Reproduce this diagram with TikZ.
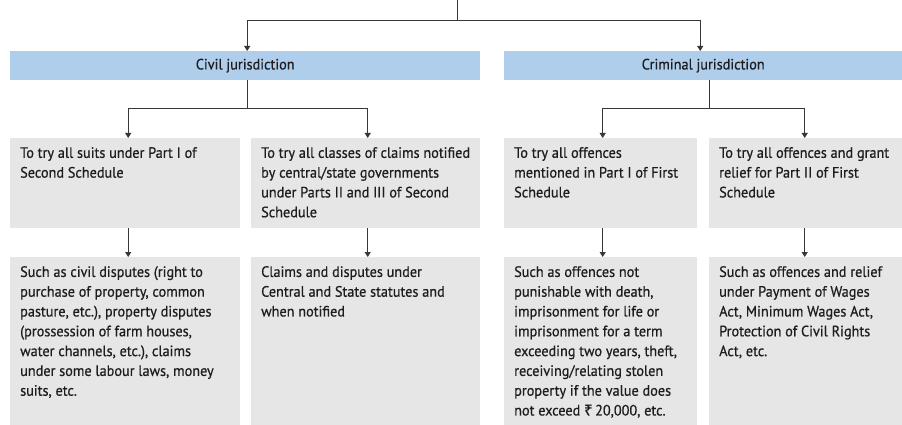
\documentclass[tikz,border=0pt]{standalone}
\usepackage{fontspec}
\setmainfont{PT Sans}[FakeStretch=0.95,FakeBold=0.6]
\newfontfamily\rupeefont{Noto Sans}[FakeBold=0.6]
\usetikzlibrary{arrows.meta}
\definecolor{barblue}{RGB}{174,206,236}
\definecolor{boxgray}{RGB}{230,230,230}
\definecolor{ink}{RGB}{30,28,30}
\definecolor{linegray}{RGB}{55,55,55}
\newcommand{\boxcontent}[3]{\parbox[c][#2][t]{#1}{\fontsize{15pt}{19.8pt}\selectfont\vspace*{9pt}\raggedright #3}}
\begin{document}
\begin{tikzpicture}[x=1pt,y=-1pt,
  bar/.style={fill=barblue, draw=none, minimum height=29pt, inner sep=0pt, anchor=north west, text=ink, font=\fontsize{15pt}{17pt}\selectfont},
  infobox/.style={fill=boxgray, draw=none, inner sep=0pt, anchor=north west, text=ink},
  arr/.style={draw=linegray, line width=0.9pt, -{Triangle[width=6pt,length=5pt]}},
  conn/.style={draw=linegray, line width=0.9pt}]
\useasboundingbox (0,0) rectangle (902,425);
% heading bars
\node[bar, minimum width=470pt] (civil) at (10,51) {Civil jurisdiction};
\node[bar, minimum width=398pt] (crim) at (504,51) {Criminal jurisdiction};
% first row
\node[infobox, minimum width=230pt, minimum height=90pt] (b1) at (10,138)
  {\boxcontent{210pt}{90pt}{To try all suits under Part I of\\ Second Schedule}};
\node[infobox, minimum width=229pt, minimum height=90pt] (b2) at (251,138)
  {\boxcontent{209pt}{90pt}{To try all classes of claims notified\\ by central/state governments\\ under Parts II and III of Second\\ Schedule}};
\node[infobox, minimum width=193pt, minimum height=90pt] (b3) at (504,138)
  {\boxcontent{173pt}{90pt}{To try all offences\\ mentioned in Part I of First\\ Schedule}};
\node[infobox, minimum width=193pt, minimum height=90pt] (b4) at (709,138)
  {\boxcontent{173pt}{90pt}{To try all offences and grant\\ relief for Part II of First\\ Schedule}};
% second row
\node[infobox, minimum width=230pt, minimum height=168pt] (c1) at (10,257)
  {\boxcontent{210pt}{168pt}{Such as civil disputes (right to\\ purchase of property, common\\ pasture, etc.), property disputes\\ (prossession of farm houses,\\ water channels, etc.), claims\\ under some labour laws, money\\ suits, etc.}};
\node[infobox, minimum width=229pt, minimum height=168pt] (c2) at (251,257)
  {\boxcontent{209pt}{168pt}{Claims and disputes under\\ Central and State statutes and\\ when notified}};
\node[infobox, minimum width=193pt, minimum height=168pt] (c3) at (504,257)
  {\boxcontent{173pt}{168pt}{Such as offences not\\ punishable with death,\\ imprisonment for life or\\ imprisonment for a term\\ exceeding two years, theft,\\ receiving/relating stolen\\ property if the value does\\ not exceed {\rupeefont ₹}\,20,000, etc.}};
\node[infobox, minimum width=193pt, minimum height=168pt] (c4) at (709,257)
  {\boxcontent{173pt}{168pt}{Such as offences and relief\\ under Payment of Wages\\ Act, Minimum Wages Act,\\ Protection of Civil Rights\\ Act, etc.}};
% connectors
\coordinate (root) at (457,0);
\coordinate (split) at (457,20);
\draw[conn] (root) -- (split);
\draw[arr] (split) -| ([xshift=2pt]civil.north);
\draw[arr] (split) -| ([xshift=-3pt]crim.north);
\coordinate (cs) at ([xshift=2pt]civil.south);
\coordinate (ks) at ([xshift=6pt]crim.south);
\draw[arr] (cs) -- ++(0,28) -| ([xshift=3pt]b1.north);
\draw[arr] (cs) -- ++(0,28) -| ([xshift=2pt]b2.north);
\draw[arr] (ks) -- ++(0,28) -| ([xshift=2pt]b3.north);
\draw[arr] (ks) -- ++(0,28) -| ([xshift=-1pt]b4.north);
\draw[arr] ([xshift=3pt]b1.south) -- ([xshift=3pt]c1.north);
\draw[arr] ([xshift=2pt]b2.south) -- ([xshift=2pt]c2.north);
\draw[arr] ([xshift=2pt]b3.south) -- ([xshift=2pt]c3.north);
\draw[arr] ([xshift=-1pt]b4.south) -- ([xshift=-1pt]c4.north);
\end{tikzpicture}
\end{document}
